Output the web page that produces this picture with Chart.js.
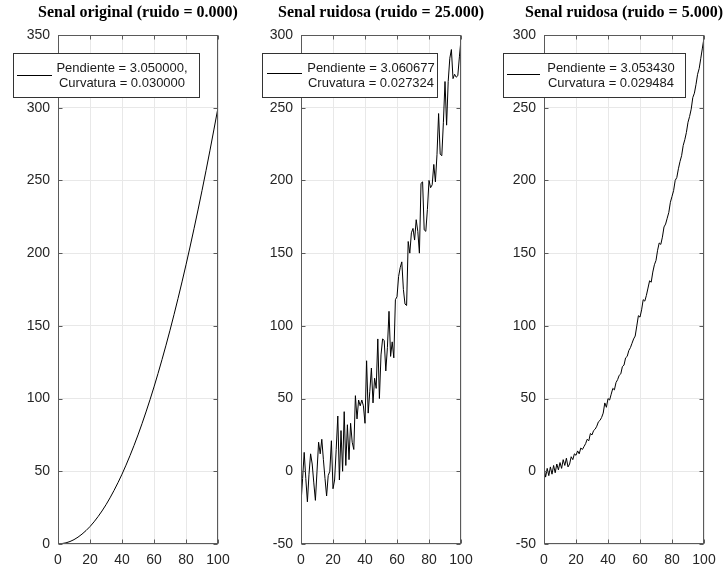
<!DOCTYPE html>
<html>
<head>
<meta charset="utf-8">
<script src="https://cdn.jsdelivr.net/npm/chart.js@4.4.1/dist/chart.umd.min.js"></script>
<style>
  html, body { margin: 0; padding: 0; background: #fff; }
  .panel { position: absolute; top: 0; left: 0; }
</style>
</head>
<body>
<canvas id="c1" class="panel" width="725" height="574"></canvas>
<canvas id="c2" class="panel" width="725" height="574"></canvas>
<canvas id="c3" class="panel" width="725" height="574"></canvas>
<script>
  // Senal original: muestreada cada 5 unidades
  const xOriginal = [0, 5, 10, 15, 20, 25, 30, 35, 40, 45, 50, 55, 60, 65, 70, 75, 80, 85, 90, 95, 100];
  const yOriginal = [0, 0.8, 3, 6.8, 12, 18.8, 27, 36.8, 48, 60.8, 75, 90.8, 108, 126.8, 147, 168.8, 192, 216.8, 243, 270.8, 300];

  // Senales ruidosas: una muestra por unidad, x = 0..100
  const yRuido25 = [
    -22, -5, 13, -5, -21, -2, 12, 5, -8, -20,
    0, 20, 12, 22, 8, -5, -17, -3, 0, 21,
    -12, -6, 15, 38, -6, 28, 0, 41, 4, 32,
    8, 33, 20, 15, 52, 36, 49, 45, 49, 45,
    33, 76, 40, 55, 71, 47, 64, 57, 91, 50,
    80, 91, 90, 69, 85, 110, 79, 89, 78, 118,
    120, 134, 140, 144, 125, 115, 114, 158, 150, 164,
    167, 159, 173, 165, 150, 198, 199, 166, 165, 180,
    200, 195, 197, 211, 199, 218, 246, 218, 217, 240,
    268, 238, 268, 284, 290, 270, 273, 271, 272, 285,
    297
  ];
  const yRuido5 = [
    3, -4, 2, -3, 3, -2, 4, -1, 5, 1,
    6, 2, 8, 4, 9, 3, 5, 10, 8, 12,
    11, 14, 12, 16, 15, 17, 19, 22, 21, 26,
    25, 28, 29, 31, 34, 35, 37, 40, 47, 44,
    50, 49, 53, 57, 56, 61, 63, 66, 67, 72,
    73, 78, 79, 83, 85, 88, 91, 93, 100, 107,
    106, 111, 118, 117, 121, 126, 131, 130, 137, 142,
    145, 152, 157, 156, 161, 168, 170, 174, 178, 185,
    189, 193, 200, 202, 208, 213, 217, 224, 228, 233,
    240, 244, 249, 257, 260, 266, 273, 277, 284, 291,
    298
  ];

  const titles = [
    'Senal original (ruido = 0.000)',
    'Senal ruidosa (ruido = 25.000)',
    'Senal ruidosa (ruido = 5.000)'
  ];
  const legendLines = [
    ['Pendiente = 3.050000,', 'Curvatura = 0.030000'],
    ['Pendiente = 3.060677', 'Cruvatura = 0.027324'],
    ['Pendiente = 3.053430', 'Curvatura = 0.029484']
  ];

  const toPoints = (xs, ys) => ys.map((y, i) => ({ x: xs ? xs[i] : i, y }));

  // Ejes estilo MATLAB: caja, marcas hacia dentro, titulo y leyenda
  const matlabAxes = {
    id: 'matlabAxes',
    afterDraw(chart, args, opts) {
      const ctx = chart.ctx;
      const a = chart.chartArea;
      const xs = chart.scales.x, ys = chart.scales.y;
      const L = Math.round(a.left) + 0.5, R = Math.round(a.right) - 0.5;
      const T = Math.round(a.top) + 0.5, B = Math.round(a.bottom) - 0.5;
      ctx.save();
      ctx.strokeStyle = '#5a5a5a';
      ctx.lineWidth = 1;
      ctx.beginPath();
      xs.ticks.forEach(t => {
        const p = Math.round(xs.getPixelForValue(t.value)) + 0.5;
        ctx.moveTo(p, B); ctx.lineTo(p, B - 4);
        ctx.moveTo(p, T); ctx.lineTo(p, T + 4);
      });
      ys.ticks.forEach(t => {
        const p = Math.round(ys.getPixelForValue(t.value)) + 0.5;
        ctx.moveTo(L, p); ctx.lineTo(L + 4, p);
        ctx.moveTo(R, p); ctx.lineTo(R - 4, p);
      });
      ctx.stroke();
      ctx.strokeRect(L, T, R - L, B - T);

      // titulo
      ctx.fillStyle = '#000';
      ctx.font = 'bold 16px "Liberation Serif", "DejaVu Serif", serif';
      ctx.textAlign = 'center';
      ctx.textBaseline = 'middle';
      ctx.fillText(opts.title, (a.left + a.right) / 2, 13);

      // leyenda
      const lg = opts.legend;
      ctx.fillStyle = '#fff';
      ctx.fillRect(lg.x, lg.y, lg.w, lg.h);
      ctx.strokeStyle = '#333';
      ctx.strokeRect(lg.x + 0.5, lg.y + 0.5, lg.w, lg.h);
      ctx.strokeStyle = '#000';
      ctx.beginPath();
      ctx.moveTo(lg.lineX0, lg.lineY + 0.5);
      ctx.lineTo(lg.lineX1, lg.lineY + 0.5);
      ctx.stroke();
      ctx.fillStyle = '#1a1a1a';
      ctx.font = '13px "Liberation Sans", Arial, sans-serif';
      ctx.fillText(opts.lines[0], lg.textX, lg.y + 15);
      ctx.fillText(opts.lines[1], lg.textX, lg.y + 30);
      ctx.restore();
    }
  };

  // padL / padR fijan el area de trazado de cada panel dentro del lienzo comun
  function makePanel(id, points, yMin, yMax, smooth, padL, padR, title, lines, legend) {
    new Chart(document.getElementById(id), {
      type: 'line',
      data: {
        datasets: [{
          data: points,
          borderColor: '#000',
          borderWidth: 1,
          pointRadius: 0,
          fill: false,
          cubicInterpolationMode: smooth ? 'monotone' : 'default',
          tension: 0
        }]
      },
      options: {
        responsive: false,
        animation: false,
        devicePixelRatio: 1,
        layout: { padding: { top: 35, right: padR, left: padL, bottom: 0 } },
        plugins: {
          legend: { display: false },
          tooltip: { enabled: false },
          matlabAxes: { title, lines, legend }
        },
        scales: {
          x: {
            type: 'linear', min: 0, max: 100,
            ticks: { stepSize: 20, padding: 8, color: '#262626', font: { family: '"Liberation Sans", Arial, sans-serif', size: 14 } },
            grid: { color: '#e8e8e8', drawTicks: false },
            border: { display: false },
            afterFit: s => { s.height = 30; }
          },
          y: {
            min: yMin, max: yMax,
            ticks: { stepSize: 50, padding: 8, color: '#262626', font: { family: '"Liberation Sans", Arial, sans-serif', size: 14 } },
            grid: { color: '#e8e8e8', drawTicks: false },
            border: { display: false },
            afterFit: s => { s.width = 58; }
          }
        }
      },
      plugins: [matlabAxes]
    });
  }

  makePanel('c1', toPoints(xOriginal, yOriginal), 0, 350, true, 0, 507, titles[0], legendLines[0],
    { x: 13, y: 53, w: 186, h: 44, lineX0: 17, lineX1: 52, lineY: 75, textX: 122 });
  makePanel('c2', toPoints(null, yRuido25), -50, 300, false, 243, 264, titles[1], legendLines[1],
    { x: 262, y: 53, w: 175, h: 44, lineX0: 267, lineX1: 302, lineY: 73, textX: 371 });
  makePanel('c3', toPoints(null, yRuido5), -50, 300, false, 486, 21, titles[2], legendLines[2],
    { x: 503, y: 53, w: 182, h: 44, lineX0: 507, lineX1: 540, lineY: 74, textX: 611 });
</script>
</body>
</html>
